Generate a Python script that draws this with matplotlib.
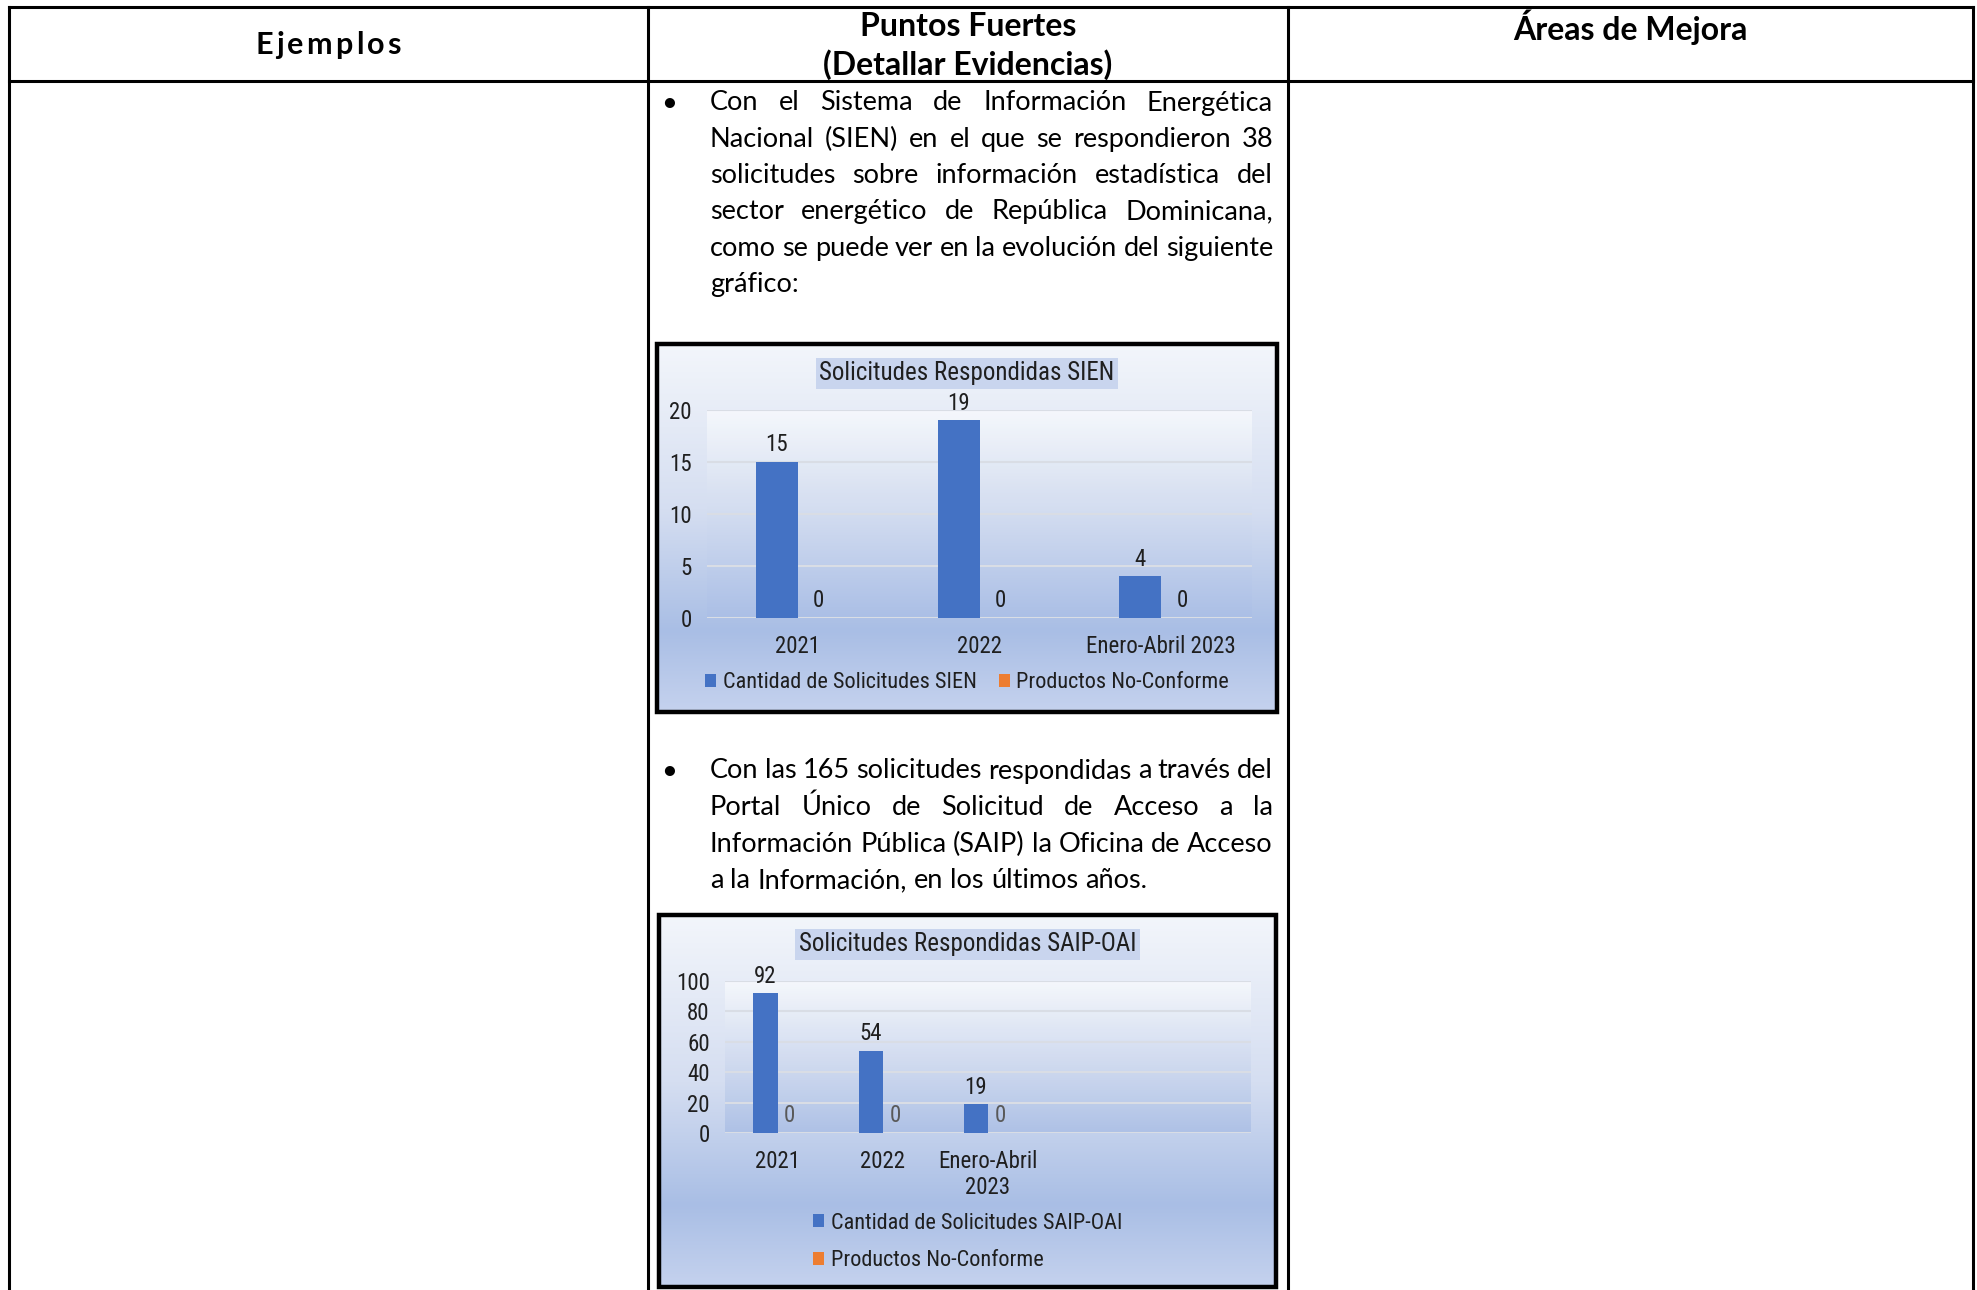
import numpy as np
import matplotlib
matplotlib.use('Agg')
import matplotlib.pyplot as plt
from matplotlib import font_manager
from matplotlib.lines import Line2D
from matplotlib.patches import Rectangle, Patch

# --- DATOS ---
header_cols = ['Ejemplos', 'Puntos Fuertes\n(Detallar Evidencias)', 'Áreas de Mejora']

parrafo_sien = [
    'Con el Sistema de Información Energética',
    'Nacional (SIEN) en el que se respondieron 38',
    'solicitudes sobre información estadística del',
    'sector energético de República Dominicana,',
    'como se puede ver en la evolución del siguiente',
    'gráfico:',
]
parrafo_saip = [
    'Con las 165 solicitudes respondidas a través del',
    'Portal Único de Solicitud de Acceso a la',
    'Información Pública (SAIP) la Oficina de Acceso',
    'a la Información, en los últimos años.',
]

sien_title = 'Solicitudes Respondidas SIEN'
sien_categories = ['2021', '2022', 'Enero-Abril 2023']
sien_solicitudes = [15, 19, 4]
sien_no_conforme = [0, 0, 0]
sien_labels = ['Cantidad de Solicitudes SIEN', 'Productos No-Conforme']
sien_yticks = [0, 5, 10, 15, 20]

saip_title = 'Solicitudes Respondidas SAIP-OAI'
saip_categories = ['2021', '2022', 'Enero-Abril\n2023']
saip_solicitudes = [92, 54, 19]
saip_no_conforme = [0, 0, 0]
saip_labels = ['Cantidad de Solicitudes SAIP-OAI', 'Productos No-Conforme']
saip_yticks = [0, 20, 40, 60, 80, 100]

# --- ESTILO ---
W, H = 1977, 1290
AZUL = '#4472C4'
NARANJA = '#ED7D31'
TXT = '#1f1f1f'
FS_CHART = 16.5

nombres = {f.name for f in font_manager.fontManager.ttflist}
def primera(lista):
    return next((f for f in lista if f in nombres), 'DejaVu Sans')

FONT_BODY = primera(['Lato', 'Open Sans', 'DejaVu Sans'])
FONT_CHART = primera(['Liberation Sans Narrow', 'Roboto Condensed', 'Roboto', 'DejaVu Sans'])

def fx(px):
    return px / W

def fy(py):
    return 1 - py / H

fig = plt.figure(figsize=(W / 100, H / 100), dpi=100)
fig.patch.set_facecolor('white')
renderer = fig.canvas.get_renderer()

# --- TABLA ---
def linea(x0, y0, x1, y1):
    fig.add_artist(Line2D([fx(x0), fx(x1)], [fy(y0), fy(y1)], color='black',
                          lw=2.2, solid_capstyle='projecting'))

linea(9, 7, 1973, 7)
linea(9, 81, 1973, 81)
linea(9, 7, 9, 1290)
linea(648, 7, 648, 1290)
linea(1288, 7, 1288, 1290)
linea(1973, 7, 1973, 1290)

def espaciado(texto, xc, y, fs, track):
    # texto con espaciado entre letras, centrado en xc
    objs = [fig.text(0, fy(y), c, fontsize=fs, fontweight='bold', family=FONT_BODY,
                     ha='left', va='center') for c in texto]
    anchos = [o.get_window_extent(renderer).width for o in objs]
    total = sum(anchos) + track * (len(objs) - 1)
    x = xc - total / 2
    for o, a in zip(objs, anchos):
        o.set_x(fx(x))
        x += a + track

espaciado(header_cols[0], 328, 45, 22, 3.2)
fig.text(fx(968), fy(27), 'Puntos Fuertes', fontsize=23, fontweight='bold',
         family=FONT_BODY, ha='center', va='center')
fig.text(fx(968), fy(65), '(Detallar Evidencias)', fontsize=23, fontweight='bold',
         family=FONT_BODY, ha='center', va='center')
fig.text(fx(1630), fy(27), header_cols[2], fontsize=23, fontweight='bold',
         family=FONT_BODY, ha='center', va='center')

# --- PARRAFOS JUSTIFICADOS ---
def parrafo(lineas, x0, x1, y_first, step, fs=19.5):
    fig.text(fx(669), fy(y_first), '•', fontsize=fs, family=FONT_BODY,
             ha='center', va='center')
    t1 = fig.text(0, 0, 'a b', fontsize=fs, family=FONT_BODY)
    t2 = fig.text(0, 0, 'ab', fontsize=fs, family=FONT_BODY)
    espacio = t1.get_window_extent(renderer).width - t2.get_window_extent(renderer).width
    t1.remove()
    t2.remove()
    for i, txt in enumerate(lineas):
        y = y_first + i * step
        palabras = txt.split()
        objs = [fig.text(0, fy(y), p, fontsize=fs, family=FONT_BODY, va='center', ha='left')
                for p in palabras]
        anchos = [o.get_window_extent(renderer).width for o in objs]
        if i == len(lineas) - 1 or len(palabras) == 1:
            gap = espacio
        else:
            gap = max((x1 - x0 - sum(anchos)) / (len(palabras) - 1), espacio * 0.5)
        x = x0
        for o, a in zip(objs, anchos):
            o.set_x(fx(x))
            x += a + gap

parrafo(parrafo_sien, 710, 1273, 103, 36.3)
parrafo(parrafo_saip, 710, 1273, 771, 36.5)

# --- GRAFICOS ---
def gradiente(stops, colores, n=256):
    rgb = np.array([matplotlib.colors.to_rgb(c) for c in colores])
    t = np.linspace(0, 1, n)
    g = np.stack([np.interp(t, stops, rgb[:, k]) for k in range(3)], axis=1)
    return g[:, None, :]

fondo = gradiente([0, 0.45, 0.78, 1.0], ['#f3f6fb', '#d5def1', '#a9bee5', '#c5d2ee'])
fondo_plot = gradiente([0, 0.5, 1.0], ['#f8fafd', '#d2dcf0', '#abbfe6'])

def grafico(frame, plot, cats, serie1, serie2, labels, yticks, titulo, title_y,
            legend_y, legend_cols, ncats, zero_color):
    l, t, r, b = frame
    # sombra y marco
    fig.add_artist(Rectangle((fx(l + 2), fy(b + 2)), (r - l) / W, (b - t) / H,
                             facecolor='#8c8c8c', edgecolor='none', zorder=0))
    fax = fig.add_axes([fx(l), fy(b), (r - l) / W, (b - t) / H])
    fax.imshow(fondo, aspect='auto', extent=[0, 1, 0, 1])
    fax.set_xlim(0, 1)
    fax.set_ylim(0, 1)
    fax.axis('off')
    fax.add_patch(Rectangle((0, 0), 1, 1, transform=fax.transAxes, fill=False,
                            edgecolor='black', lw=3.2, clip_on=False))

    pl, pt, pr, pb = plot
    pos = [fx(pl), fy(pb), (pr - pl) / W, (pb - pt) / H]
    gax = fig.add_axes(pos)
    gax.imshow(fondo_plot, aspect='auto', extent=[0, 1, 0, 1], alpha=0.85)
    gax.axis('off')

    ax = fig.add_axes(pos)
    ax.set_facecolor('none')
    x = np.arange(len(cats))
    w = 0.23
    b1 = ax.bar(x - w / 2, serie1, w, color=AZUL, label=labels[0], zorder=3)
    b2 = ax.bar(x + w / 2, serie2, w, color=NARANJA, label=labels[1], zorder=3)
    ax.bar_label(b1, padding=4, fontsize=FS_CHART, color=TXT, family=FONT_CHART)
    ax.bar_label(b2, padding=4, fontsize=FS_CHART, color=zero_color, family=FONT_CHART)
    ax.set_xlim(-0.5, ncats - 0.5)
    ax.set_ylim(0, yticks[-1])
    ax.set_yticks(yticks)
    ax.set_xticks(x)
    ax.set_xticklabels(cats, fontsize=FS_CHART, color=TXT, family=FONT_CHART, linespacing=1.2)
    ax.tick_params(axis='y', length=0, pad=11, labelsize=FS_CHART, labelcolor=TXT)
    ax.tick_params(axis='x', length=0, pad=12)
    for lab in ax.get_yticklabels():
        lab.set_family(FONT_CHART)
    ax.grid(axis='y', color='#d9dde5', lw=1.5, zorder=1)
    ax.set_axisbelow(True)
    for s in ax.spines.values():
        s.set_visible(False)

    fig.text(fx((l + r) / 2), fy(title_y), titulo, fontsize=18, color=TXT,
             family=FONT_CHART, ha='center', va='center',
             bbox=dict(facecolor='#c9d5ee', edgecolor='none', pad=2.5))

    handles = [Patch(facecolor=AZUL, label=labels[0]),
               Patch(facecolor=NARANJA, label=labels[1])]
    fig.legend(handles=handles, loc='center', bbox_to_anchor=(fx((l + r) / 2), fy(legend_y)),
               ncol=legend_cols, frameon=False, prop={'family': FONT_CHART, 'size': 16},
               handlelength=0.5, handleheight=0.5, handletextpad=0.3,
               columnspacing=1.0, labelspacing=0.75, labelcolor=TXT)

grafico((657, 344, 1277, 712), (707, 410, 1252, 618), sien_categories,
        sien_solicitudes, sien_no_conforme, sien_labels, sien_yticks, sien_title,
        373, 683, 2, 3, TXT)
grafico((659, 915, 1276, 1287), (725, 981, 1251, 1133), saip_categories,
        saip_solicitudes, saip_no_conforme, saip_labels, saip_yticks, saip_title,
        944, 1242, 1, 5, '#595959')

fig.savefig('out.png', dpi=100)
plt.close(fig)
